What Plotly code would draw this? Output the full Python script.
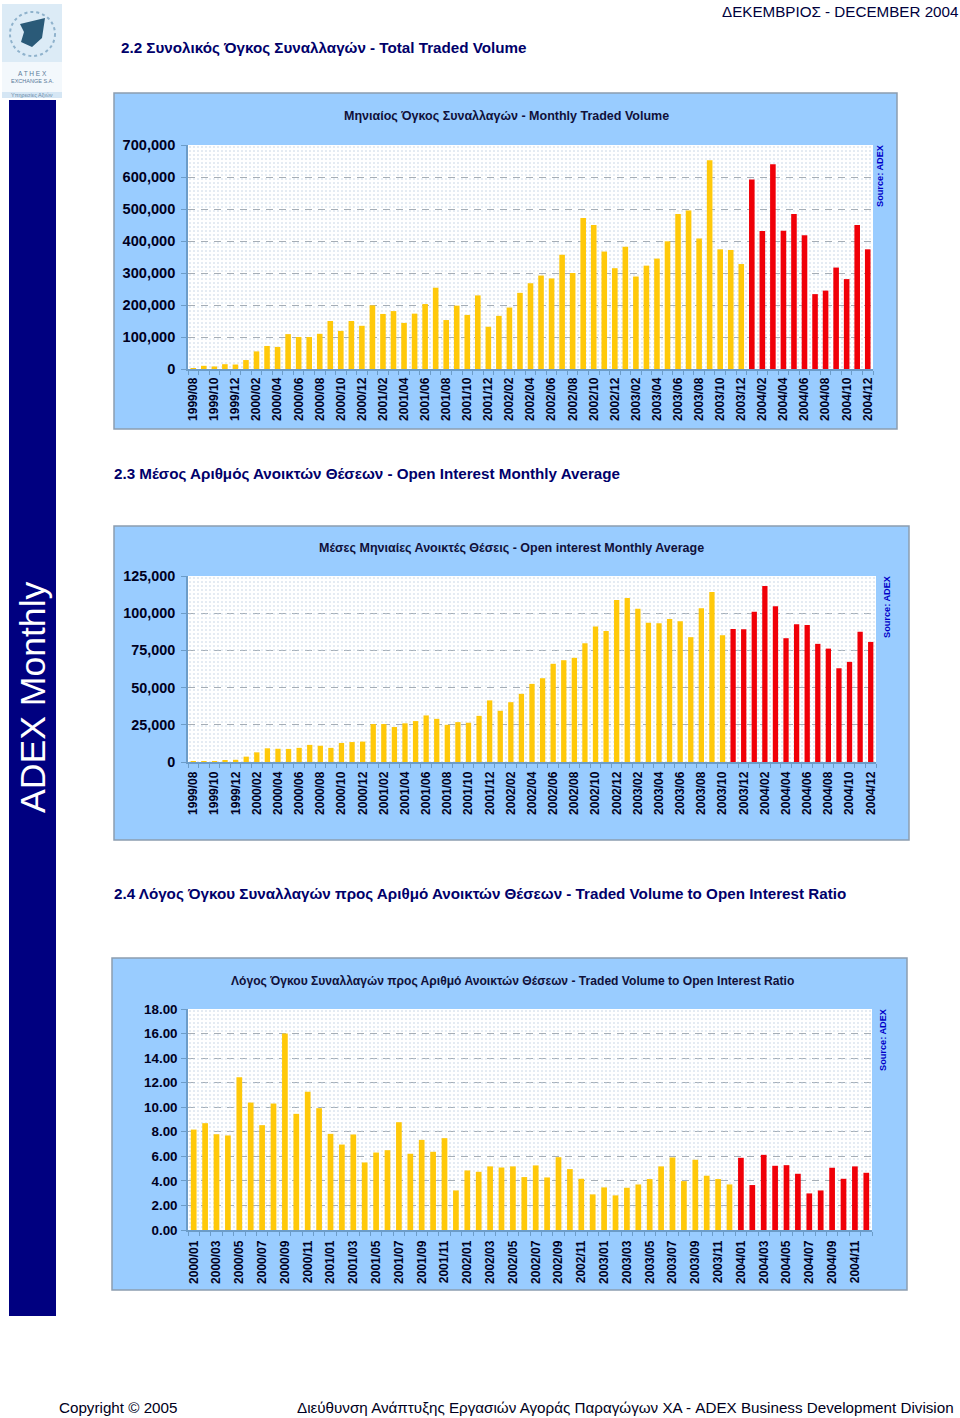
import plotly.graph_objects as go

W, H = 960, 1418

months_a = [f"{y}/{m:02d}" for y in range(1999, 2005) for m in range(1, 13)][7:]
months_b = [f"{y}/{m:02d}" for y in range(2000, 2005) for m in range(1, 13)]

volume = [2000, 10000, 8000, 15000, 14000, 28000, 55000, 72000, 69000, 109000, 100000, 100000, 110000,
          150000, 119000, 150000, 135000, 199000, 172000, 181000, 144000, 173000, 203000, 254000, 153000,
          198000, 169000, 230000, 132000, 166000, 192000, 238000, 268000, 292000, 283000, 357000, 300000,
          472000, 450000, 367000, 315000, 382000, 289000, 323000, 345000, 399000, 484000, 495000, 408000,
          652000, 374000, 372000, 328000, 592000, 431000, 640000, 432000, 484000, 418000, 234000, 245000,
          317000, 281000, 450000, 374000]
open_interest = [200, 200, 300, 800, 1500, 3600, 6500, 9200, 8900, 8800, 9500, 11500, 10900, 9500, 12800,
                 13400, 13700, 25500, 25500, 23500, 26000, 27500, 31300, 29000, 25000, 26800, 26400, 31000,
                 41400, 34400, 40200, 45800, 52500, 56300, 66000, 68400, 70000, 79800, 91000, 88100, 108900,
                 110200, 103000, 93500, 93200, 96100, 94600, 83900, 103300, 114300, 85200, 89400, 89200,
                 101000, 118300, 104600, 83200, 92600, 92100, 79400, 76200, 63000, 67300, 87600, 80700]
ratio = [8.18, 8.70, 7.80, 7.70, 12.44, 10.38, 8.54, 10.30, 16.00, 9.46, 11.25, 9.92, 7.83, 6.96, 7.78,
         5.50, 6.31, 6.50, 8.78, 6.21, 7.34, 6.37, 7.48, 3.22, 4.85, 4.74, 5.18, 5.09, 5.18, 4.31, 5.26,
         4.28, 5.93, 4.96, 4.17, 2.90, 3.47, 2.82, 3.44, 3.71, 4.15, 5.18, 5.91, 3.98, 5.72, 4.42, 4.15,
         3.71, 5.88, 3.66, 6.12, 5.23, 5.28, 4.58, 2.98, 3.22, 5.07, 4.17, 5.18, 4.66]

ticks_volume = [0, 100000, 200000, 300000, 400000, 500000, 600000, 700000]
ticks_oi = [0, 25000, 50000, 75000, 100000, 125000]
ticks_ratio = [0, 2, 4, 6, 8, 10, 12, 14, 16, 18]

title_volume = "Μηνιαίος Όγκος Συναλλαγών - Monthly Traded Volume"
title_oi = "Μέσες Μηνιαίες Ανοικτές Θέσεις - Open interest Monthly Average"
title_ratio = "Λόγος Όγκου Συναλλαγών προς Αριθμό Ανοικτών Θέσεων - Traded Volume to Open Interest Ratio"
heading_volume = "2.2 Συνολικός Όγκος Συναλλαγών - Total Traded Volume"
heading_oi = "2.3 Μέσος Αριθμός Ανοικτών Θέσεων - Open Interest Monthly Average"
heading_ratio = "2.4 Λόγος Όγκου Συναλλαγών προς Αριθμό Ανοικτών Θέσεων - Traded Volume to Open Interest Ratio"

FONT = "Liberation Sans, Arial, sans-serif"
YEL, RED = "#FFC90A", "#F00008"
PANEL, EDGE = "#99CCFF", "#8C9DB0"
AXIS = "#6C9CC8"
INK = "#00001E"
NAVY = "#00006A"

fig = go.Figure()
shapes, annotations = [], []


def fx(p):
    return p / W


def fy(p):
    return 1 - p / H


def text(x, y, s, size, color=INK, bold=False, anchor="left", angle=0):
    annotations.append(dict(
        x=fx(x), y=fy(y), xref="paper", yref="paper", xanchor=anchor, yanchor="middle",
        text=f"<b>{s}</b>" if bold else s, showarrow=False, textangle=angle, borderpad=0, borderwidth=0,
        font=dict(family=FONT, size=size, color=color)))


def box(x0, y0, x1, y1, fill, line=None, width=0):
    shapes.append(dict(type="rect", xref="paper", yref="paper", layer="below",
                       x0=fx(x0), x1=fx(x1), y0=fy(y0), y1=fy(y1), fillcolor=fill,
                       line=dict(color=line or fill, width=width)))


def chart(idx, labels, values, red_from, ticks, fmt, panel, plot, title, title_xy, title_size, source_x, barw,
          x_gap, y_gap, y_size):
    box(*panel, PANEL, EDGE, 1.5)
    x0, y0, x1, y1 = plot
    box(x0, y0, x1, y1, "#FFFFFF")
    text(title_xy[0], title_xy[1], title, title_size, "#10103A", True, "center")
    text(source_x, y0 + 31, "Source: ADEX", 9.2, "#0000C8", True, "center", -90)
    n = len(labels)
    xs = list(range(n))
    sfx = "" if idx == 1 else str(idx)
    xa, ya = "x" + sfx, "y" + sfx
    # dotted plot background
    fig.add_trace(go.Bar(
        x=[(n - 1) / 2], y=[ticks[-1]], width=[n], xaxis=xa, yaxis=ya, hoverinfo="skip",
        marker=dict(color="rgba(0,0,0,0)", line=dict(width=0),
                    pattern=dict(shape=".", fgcolor="#BDCEE0", bgcolor="rgba(0,0,0,0)", size=4, solidity=0.24))))
    fig.add_trace(go.Bar(
        x=xs, y=values, width=barw, xaxis=xa, yaxis=ya, hoverinfo="skip",
        marker=dict(color=[YEL if i < red_from else RED for i in xs], line=dict(width=0))))
    xaxis = dict(
        domain=[fx(x0), fx(x1)], anchor=ya, range=[-0.5, n - 0.5], tickmode="array",
        tickvals=xs[::2], ticktext=labels[::2], tickangle=-90, showgrid=False, zeroline=False,
        showline=True, linecolor=AXIS, linewidth=1.5, ticks="outside", ticklen=x_gap, tickcolor="rgba(0,0,0,0)",
        tickfont=dict(family=FONT, size=12, color=INK, weight="bold"),
        minor=dict(tick0=-0.5, dtick=1, ticks="outside", ticklen=4, tickcolor=AXIS, showgrid=False))
    yaxis = dict(
        domain=[fy(y1), fy(y0)], anchor=xa, range=[0, ticks[-1]], tickmode="array",
        tickvals=ticks, ticktext=[fmt.format(t) for t in ticks], showgrid=False, zeroline=False,
        showline=True, linecolor=AXIS, linewidth=1.5, ticks="outside", ticklen=5, tickcolor=AXIS,
        ticklabelstandoff=y_gap, tickfont=dict(family=FONT, size=y_size, color=INK, weight="bold"),
        minor=dict(tickvals=ticks[1:-1], showgrid=True, gridcolor="#A6AEB6", griddash="7px,6px",
                   gridwidth=1.2, ticks=""))
    fig.update_layout(**{"xaxis" + sfx: xaxis, "yaxis" + sfx: yaxis})


# left navy band, logo
box(2, 4, 62, 62, "#DCEBF6")
box(2, 62, 62, 92, "#F3F8FC")
box(2, 92, 62, 98, "#D5E6F4")
box(9, 100, 56, 1316, "#000080")
shapes.append(dict(type="circle", xref="paper", yref="paper", layer="below",
                   x0=fx(10), x1=fx(55), y0=fy(12), y1=fy(56), line=dict(color="#8FB2CC", width=2, dash="dot")))
shapes.append(dict(type="path", xref="paper", yref="paper", layer="below", fillcolor="#2A5A78", line=dict(width=0),
                   path="M {} {} L {} {} L {} {} L {} {} L {} {} L {} {} Z".format(
                       fx(20), fy(24), fx(45), fy(18), fx(42), fy(38), fx(32), fy(47), fx(21), fy(42), fx(24), fy(32))))
text(32, 73, "A T H E X", 6.5, "#5A7A9A", False, "center")
text(32, 81, "EXCHANGE S.A.", 5.5, "#5A7A9A", False, "center")
text(32, 95, "Υπηρεσίες Αξιών", 5.5, "#6A8AA8", False, "center")
text(33, 697, "ADEX Monthly", 35.6, "#FFFFFF", False, "center", -90)

text(958, 12, "ΔΕΚΕΜΒΡΙΟΣ - DECEMBER 2004", 15.2, "#00003C", False, "right")
text(121, 48, heading_volume, 15.2, NAVY, True)
text(114, 474, heading_oi, 15.2, NAVY, True)
text(114, 893.5, heading_ratio, 15.2, NAVY, True)
text(59, 1407.5, "Copyright © 2005", 15.2, "#000020")
text(954, 1407.5, "Διεύθυνση Ανάπτυξης Εργασιών Αγοράς Παραγώγων ΧΑ - ADEX Business Development Division", 15.2,
     "#000020", False, "right")

chart(1, months_a, volume, 53, ticks_volume, "{:,}", (114, 93, 897, 429), (188, 145, 873, 369),
      title_volume, (506, 116), 12.5, 880, 0.53, 2, 3, 14.6)
chart(2, months_a, open_interest, 51, ticks_oi, "{:,}", (114, 526, 909, 840), (188, 576, 876, 762),
      title_oi, (511, 548), 12.5, 887, 0.5, 3, 3, 14.4)
chart(3, months_b, ratio, 48, ticks_ratio, "{:.2f}", (112, 958, 907, 1290), (188, 1009, 872, 1230),
      title_ratio, (512, 981), 12.1, 883, 0.5, 4, 1, 13.4)

fig.update_layout(
    width=W, height=H, margin=dict(l=0, r=0, t=0, b=0, autoexpand=False), autosize=False, showlegend=False,
    paper_bgcolor="#FFFFFF", plot_bgcolor="#FFFFFF", barmode="overlay",
    shapes=shapes, annotations=annotations, font=dict(family=FONT))

fig.write_html("out.html", post_script="document.body.style.margin='0';", config=dict(displayModeBar=False))
